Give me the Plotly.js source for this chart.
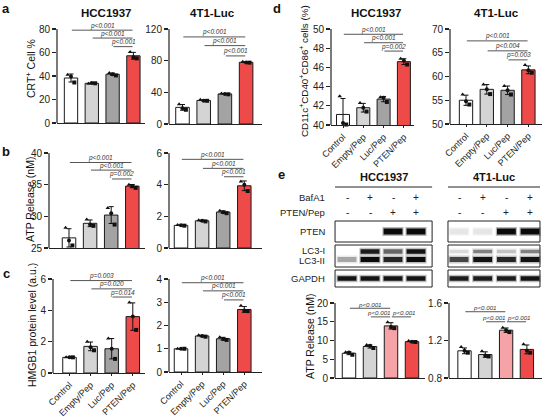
<!DOCTYPE html>
<html><head><meta charset="utf-8">
<script src="https://cdn.plot.ly/plotly-3.0.1.min.js"></script>
<style>html,body{margin:0;padding:0;background:#fff}#chart{width:546px;height:417px}</style>
</head><body><div id="chart"></div>
<script>
const W = 546, H = 417;
const categories = ["Control", "Empty/Pep", "Luc/Pep", "PTEN/Pep"];

// ---- a: CRT+ cells (%)
const crtHCC_mean = [38.3, 33.8, 41.5, 57.2];
const crtHCC_pts = [[41, 39.5, 34.5], [33.5, 34, 33.8], [42.5, 41.5, 40.5], [60.5, 56, 55]];
const crt4T1_mean = [21, 29.8, 38, 78];
const crt4T1_pts = [[25, 20, 18], [30.5, 29.5, 29.3], [38.5, 38, 37.5], [78.7, 77.8, 77.5]];
const pA_HCC = ["p<0.001", "p<0.001", "p<0.001"];
const pA_4T1 = ["p<0.001", "p<0.001", "p<0.001"];
// ---- b: ATP release (nM)
const atpHCC_mean = [26.6, 28.9, 30.2, 34.77];
const atpHCC_pts = [[28.2, 26.2, 25.4], [29.5, 28.7, 28.5], [31.3, 30.5, 28.7], [35, 34.8, 34.5]];
const atp4T1_mean = [1.43, 1.72, 2.27, 3.93];
const atp4T1_pts = [[1.45, 1.43, 1.41], [1.76, 1.72, 1.68], [2.35, 2.25, 2.2], [4.2, 4.0, 3.6]];
const pB_HCC = ["p<0.001", "p<0.001", "p=0.002"];
const pB_4T1 = ["p<0.001", "p<0.001", "p<0.001"];
// ---- c: HMGB1 protein level (a.u.)
const hmgbHCC_mean = [1.0, 1.7, 1.55, 3.6];
const hmgbHCC_pts = [[1, 1, 1], [2.0, 1.65, 1.45], [2.2, 1.55, 0.9], [4.5, 3.6, 2.75]];
const hmgb4T1_mean = [1.0, 1.55, 1.43, 2.69];
const hmgb4T1_pts = [[1, 1, 1], [1.58, 1.55, 1.52], [1.5, 1.42, 1.38], [2.85, 2.65, 2.62]];
const pC_HCC = ["p=0.003", "p=0.020", "p=0.014"];
const pC_4T1 = ["p<0.001", "p<0.001", "p<0.001"];
// ---- d: CD11c+CD40+CD86+ cells (%)
const dcHCC_mean = [41.1, 41.8, 42.7, 46.6];
const dcHCC_pts = [[43.0, 40.2, 40.05], [42.3, 41.8, 41.4], [42.9, 42.85, 42.4], [46.9, 46.7, 46.3]];
const dc4T1_mean = [55.0, 57.3, 57.1, 61.4];
const dc4T1_pts = [[56.2, 54.8, 54.1], [58.3, 57.3, 56.3], [58.0, 57.1, 56.2], [62.4, 61.3, 60.8]];
const pD_HCC = ["p<0.001", "p<0.001", "p=0.002"];
const pD_4T1 = ["p<0.001", "p<0.004", "p=0.003"];
// ---- e: ATP release (nM), BafA1 experiment
const atpE_HCC_mean = [6.6, 8.4, 13.9, 9.7];
const atpE_HCC_pts = [[6.9, 6.8, 6.2], [8.8, 8.6, 8.0], [14.9, 13.6, 13.3], [9.85, 9.7, 9.6]];
const atpE_4T1_mean = [1.09, 1.05, 1.31, 1.105];
const atpE_4T1_pts = [[1.13, 1.09, 1.07], [1.085, 1.04, 1.03], [1.337, 1.31, 1.29], [1.16, 1.09, 1.07]];
const pE_HCC = ["p<0.001", "p<0.001", "p<0.001"];
const pE_4T1 = ["p<0.001", "p<0.001", "p<0.001"];
// ---- e: western blot
const bafA1 = ["-", "+", "-", "+"];
const ptenPep = ["-", "-", "+", "+"];
const blotHCC_PTEN = [0, 0, 1, 1];
const blotHCC_LC3I = [0, 0.9, 0.55, 0.95];
const blotHCC_LC3II = [0.3, 1, 0.85, 1];
const blotHCC_GAPDH = [0.95, 0.95, 0.95, 0.95];
const blot4T1_PTEN = [0.08, 0.08, 1, 1];
const blot4T1_LC3I = [0.12, 0.45, 0.2, 0.45];
const blot4T1_LC3II = [0.7, 0.95, 0.85, 0.95];
const blot4T1_GAPDH = [0.9, 0.9, 0.9, 0.95];

// ---------- styling / layout ----------
const FONT = "Liberation Sans, Arial, sans-serif";
const PAL = ["#ffffff", "#d4d4d4", "#a3a3a3", "#ee4a4a"];
const PAL_E = ["#ffffff", "#d4d4d4", "#f5a3a6", "#ee4a4a"];
const PAIRS3 = [[0, 3], [1, 3], [2, 3]];
const PAIRS_E = [[0, 2], [1, 2], [2, 3]];
const SYMS = ["triangle-up", "circle", "square"];
const OFFS = [-0.16, 0, 0.16];

const sd = a => { const m = a.reduce((s, v) => s + v, 0) / a.length; return Math.sqrt(a.reduce((s, v) => s + (v - m) ** 2, 0) / (a.length - 1)); };

const specs = [
  {mean: crtHCC_mean, pts: crtHCC_pts, pv: pA_HCC, pairs: PAIRS3, lv: [79, 72.3, 65], x0: 57, x1: 145, c0: 71, d: 20.8, yb: 123, yt: 29, ymin: 0, ymax: 80, dt: 20, ext: 18, lab: false, pal: PAL},
  {mean: crt4T1_mean, pts: crt4T1_pts, pv: pA_4T1, pairs: PAIRS3, lv: [110, 99, 86], x0: 169, x1: 262, c0: 182.5, d: 21.2, yb: 124, yt: 29, ymin: 0, ymax: 120, dt: 40, ext: 18, lab: false, pal: PAL},
  {mean: atpHCC_mean, pts: atpHCC_pts, pv: pB_HCC, pairs: PAIRS3, lv: [38.5, 37.3, 35.9], x0: 49, x1: 145, c0: 69, d: 21.1, yb: 248, yt: 153, ymin: 25, ymax: 40, dt: 5, ext: 146, lab: false, pal: PAL},
  {mean: atp4T1_mean, pts: atp4T1_pts, pv: pB_4T1, pairs: PAIRS3, lv: [5.6, 5.03, 4.5], x0: 169, x1: 262, c0: 181, d: 21.1, yb: 248, yt: 153, ymin: 0, ymax: 6, dt: 2, ext: 146, lab: false, pal: PAL},
  {mean: hmgbHCC_mean, pts: hmgbHCC_pts, pv: pC_HCC, pairs: PAIRS3, lv: [5.9, 5.37, 4.85], x0: 53, x1: 145, c0: 69.5, d: 21.1, yb: 373, yt: 279, ymin: 0, ymax: 6, dt: 2, ext: 268, lab: true, pal: PAL},
  {mean: hmgb4T1_mean, pts: hmgb4T1_pts, pv: pC_4T1, pairs: PAIRS3, lv: [3.84, 3.49, 3.1], x0: 169, x1: 262, c0: 181, d: 21.1, yb: 372, yt: 279, ymin: 0, ymax: 4, dt: 1, ext: 268, lab: true, pal: PAL},
  {mean: dcHCC_mean, pts: dcHCC_pts, pv: pD_HCC, pairs: PAIRS3, lv: [49.45, 48.57, 47.7], x0: 331, x1: 414, c0: 343, d: 20.3, yb: 125, yt: 29, ymin: 40, ymax: 50, dt: 2, ext: 18, lab: true, pal: PAL},
  {mean: dc4T1_mean, pts: dc4T1_pts, pv: pD_4T1, pairs: PAIRS3, lv: [67.5, 65.4, 63.5], x0: 450, x1: 542, c0: 466, d: 20.8, yb: 124, yt: 29, ymin: 50, ymax: 70, dt: 5, ext: 18, lab: true, pal: PAL},
  {mean: atpE_HCC_mean, pts: atpE_HCC_pts, pv: pE_HCC, pairs: PAIRS_E, lv: [18.6, 16.3, 16.3], x0: 335, x1: 425, c0: 349, d: 21, yb: 378, yt: 303, ymin: 0, ymax: 20, dt: 5, ext: 296, lab: false, pal: PAL_E},
  {mean: atpE_4T1_mean, pts: atpE_4T1_pts, pv: pE_4T1, pairs: PAIRS_E, lv: [1.507, 1.40, 1.40], x0: 449, x1: 542, c0: 464.5, d: 20.8, yb: 378, yt: 303, ymin: 0.8, ymax: 1.6, dt: 0.4, ext: 296, lab: false, pal: PAL_E}
];

const data = [], shapes = [], annotations = [];
const layout = {
  width: W, height: H, margin: {l: 0, r: 0, t: 0, b: 0},
  paper_bgcolor: "#fff", plot_bgcolor: "rgba(0,0,0,0)",
  showlegend: false, hovermode: false,
  font: {family: FONT, color: "#222", size: 10}
};
const px = x => x / W, py = y => 1 - y / H;

specs.forEach((s, i) => {
  const k = i + 1, sx = k === 1 ? "" : String(k);
  const xa = "x" + sx, ya = "y" + sx;
  const r0 = -(s.c0 - s.x0) / s.d, r1 = r0 + (s.x1 - s.x0) / s.d;
  const sc = (s.yb - s.yt) / (s.ymax - s.ymin);
  const tv = [];
  for (let v = s.ymin; v <= s.ymax + 1e-9; v += s.dt) tv.push(Math.round(v * 1000) / 1000);
  layout["xaxis" + sx] = {
    domain: [px(s.x0), px(s.x1)], range: [r0, r1], anchor: ya,
    showline: true, linecolor: "#222", linewidth: 1.2, showgrid: false, zeroline: false,
    tickmode: "array", tickvals: [0, 1, 2, 3], ticktext: categories,
    showticklabels: s.lab, ticks: s.lab ? "outside" : "", ticklen: 2, tickwidth: 1, tickcolor: "#222",
    tickangle: -45, tickfont: {size: 9, family: FONT, color: "#222"}, fixedrange: true
  };
  layout["yaxis" + sx] = {
    domain: [py(s.yb), py(s.ext)], range: [s.ymin, s.ymax + (s.yt - s.ext) / sc], anchor: xa,
    showline: false, showgrid: false, zeroline: false,
    tickmode: "array", tickvals: tv, ticks: "outside", ticklen: 4, tickwidth: 1.2, tickcolor: "#222",
    tickfont: {size: 10, family: FONT, color: "#222"}, fixedrange: true
  };
  shapes.push({type: "line", xref: xa + " domain", yref: ya, x0: 0, x1: 0, y0: s.ymin, y1: s.ymax,
    line: {color: "#222", width: 1.2}});
  data.push({type: "bar", x: [0, 1, 2, 3], y: s.mean, width: 0.64, xaxis: xa, yaxis: ya,
    marker: {color: s.pal, line: {color: "#1a1a1a", width: 1}},
    error_y: {type: "data", array: s.pts.map(sd), color: "#111", thickness: 1, width: 2.5}});
  const dx = [], dy = [], dsym = [];
  s.pts.forEach((arr, ci) => arr.forEach((v, j) => { dx.push(ci + OFFS[j]); dy.push(v); dsym.push(SYMS[j]); }));
  data.push({type: "scatter", mode: "markers", x: dx, y: dy, xaxis: xa, yaxis: ya, cliponaxis: false,
    marker: {color: "#111", size: 4, symbol: dsym}});
  const lx = [], ly = [];
  const sameLevel = s.pairs === PAIRS_E;
  s.pairs.forEach((p, j) => {
    lx.push(p[0] + 0.04, p[1] - 0.04, null); ly.push(s.lv[j], s.lv[j], null);
    const xs = sameLevel ? (j === 1 ? -2 : (j === 2 ? 2 : 0)) : 0;
    annotations.push({xref: xa, yref: ya, x: (p[0] + p[1]) / 2, y: s.lv[j], yanchor: "bottom", xanchor: "center",
      text: "<i>" + s.pv[j].replace("<", "&lt;") + "</i>", showarrow: false, yshift: -1.5, xshift: xs,
      font: {size: sameLevel ? 6.2 : 6.5, family: FONT, color: "#333"}});
  });
  data.push({type: "scatter", mode: "lines", x: lx, y: ly, xaxis: xa, yaxis: ya, cliponaxis: false,
    line: {color: "#555", width: 1}});
});

// ---------- western blot (axis 11) ----------
const LANE0 = 347, LANEW = 23;
const lanesHCC = [0, 1, 2, 3];
const lanes4T1 = [4.87, 5.9, 6.93, 7.96];
layout.xaxis11 = {domain: [px(328), px(546)], range: [(328 - LANE0) / LANEW, (546 - LANE0) / LANEW], anchor: "y11", visible: false, fixedrange: true};
layout.yaxis11 = {domain: [py(292), py(170)], range: [122, 0], anchor: "x11", visible: false, fixedrange: true};
const ROW = {head: 7, headLine: 17, baf: 27, pep: 42, pten: 61.5, lc3i: 81.5, lc3ii: 89.5, gapdh: 108.5};
const BOX = [[51, 72], [75, 97], [100, 117]];
const GX = [[-0.52, 3.7], [4.39, 8.39]];
GX.forEach(g => {
  BOX.forEach(b => shapes.push({type: "rect", xref: "x11", yref: "y11", x0: g[0], x1: g[1], y0: b[0], y1: b[1],
    line: {color: "#222", width: 1}, fillcolor: "rgba(0,0,0,0)"}));
  shapes.push({type: "line", xref: "x11", yref: "y11", x0: g[0], x1: g[1], y0: ROW.headLine, y1: ROW.headLine,
    line: {color: "#222", width: 1}});
});
function bands(lanes, vals, y, w) {
  lanes.forEach((lx, i) => {
    const a = vals[i];
    if (a <= 0) return;
    data.push({type: "scatter", mode: "lines", x: [lx - 0.46, lx + 0.46], y: [y, y], xaxis: "x11", yaxis: "y11",
      line: {color: "rgba(20,20,20," + (a * 0.3).toFixed(3) + ")", width: w + 3}});
    data.push({type: "scatter", mode: "lines", x: [lx - 0.41, lx + 0.41], y: [y, y], xaxis: "x11", yaxis: "y11",
      line: {color: "rgba(10,10,10," + a.toFixed(3) + ")", width: w}});
  });
}
bands(lanesHCC, blotHCC_PTEN, ROW.pten, 6);
bands(lanesHCC, blotHCC_LC3I, ROW.lc3i, 4.5);
bands(lanesHCC, blotHCC_LC3II, ROW.lc3ii, 5);
bands(lanesHCC, blotHCC_GAPDH, ROW.gapdh, 4.5);
bands(lanes4T1, blot4T1_PTEN, ROW.pten, 6);
bands(lanes4T1, blot4T1_LC3I, ROW.lc3i, 3.5);
bands(lanes4T1, blot4T1_LC3II, ROW.lc3ii, 5);
bands(lanes4T1, blot4T1_GAPDH, ROW.gapdh, 4.5);
[lanesHCC, lanes4T1].forEach(lanes => lanes.forEach((lx, i) => {
  annotations.push({xref: "x11", yref: "y11", x: lx, y: ROW.baf, text: bafA1[i], showarrow: false, font: {size: 10, family: FONT, color: "#222"}});
  annotations.push({xref: "x11", yref: "y11", x: lx, y: ROW.pep, text: ptenPep[i], showarrow: false, font: {size: 10, family: FONT, color: "#222"}});
}));
annotations.push({xref: "x11", yref: "y11", x: (GX[0][0] + GX[0][1]) / 2, y: ROW.head, text: "<b>HCC1937</b>", showarrow: false, font: {size: 11, family: FONT, color: "#111"}});
annotations.push({xref: "x11", yref: "y11", x: (GX[1][0] + GX[1][1]) / 2, y: ROW.head, text: "<b>4T1-Luc</b>", showarrow: false, font: {size: 11, family: FONT, color: "#111"}});
[["BafA1", ROW.baf], ["PTEN/Pep", ROW.pep], ["PTEN", ROW.pten], ["LC3-I", ROW.lc3i - 1], ["LC3-II", ROW.lc3ii + 0.5], ["GAPDH", ROW.gapdh]].forEach(r => {
  annotations.push({xref: "paper", yref: "y11", x: px(327), y: r[1], xanchor: "right", text: r[0], showarrow: false, font: {size: 9.5, family: FONT, color: "#222"}});
});

// ---------- titles, y titles, panel letters ----------
const paperText = (x, y, text, size, opts) => annotations.push(Object.assign({xref: "paper", yref: "paper", x: px(x), y: py(y), text, showarrow: false, xanchor: "center", yanchor: "middle", font: {size, family: FONT, color: "#111"}}, opts || {}));
paperText(106, 13, "<b>HCC1937</b>", 11.5);
paperText(212, 13, "<b>4T1-Luc</b>", 11.5);
paperText(376, 13, "<b>HCC1937</b>", 11.5);
paperText(496, 13, "<b>4T1-Luc</b>", 11.5);
paperText(31, 69, "CRT<sup>+</sup> Cell %", 10.5, {textangle: -90});
paperText(30, 200, "ATP Release (nM)", 10.5, {textangle: -90});
paperText(32, 325, "HMGB1 protein level (a.u.)", 10.5, {textangle: -90});
paperText(304, 71, "CD11c<sup>+</sup>CD40<sup>+</sup>CD86<sup>+</sup> cells (%)", 9.8, {textangle: -90});
paperText(310, 337, "ATP Release (nM)", 10.5, {textangle: -90});
paperText(6, 9, "<b>a</b>", 13);
paperText(6, 151, "<b>b</b>", 13);
paperText(6, 273, "<b>c</b>", 13);
paperText(277, 9, "<b>d</b>", 13);
paperText(281, 174, "<b>e</b>", 13);

layout.shapes = shapes;
layout.annotations = annotations;
Plotly.newPlot("chart", data, layout, {displayModeBar: false, staticPlot: true});
</script></body></html>
